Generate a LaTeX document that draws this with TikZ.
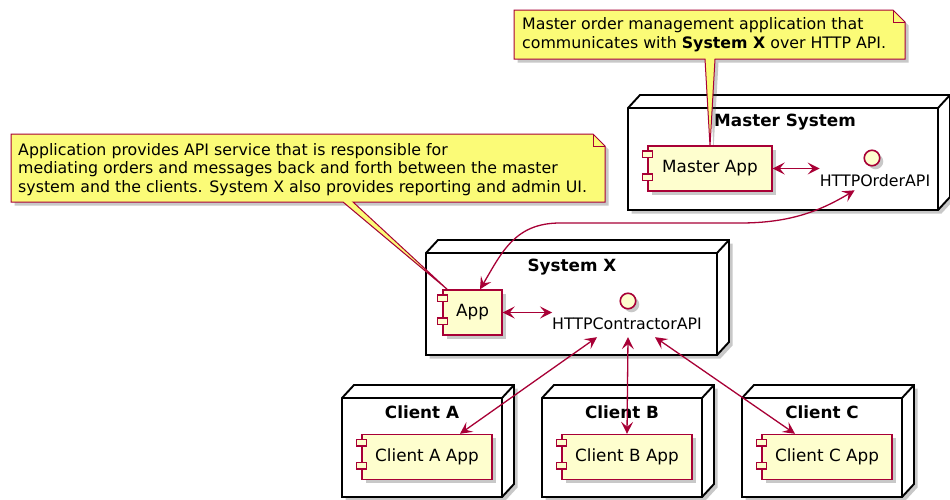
\documentclass[tikz,border=0pt]{standalone}
\usepackage{fontspec}
\setmainfont{DejaVu Sans}
\usetikzlibrary{arrows.meta,shadows,calc}
\definecolor{umlred}{HTML}{A80036}
\definecolor{notey}{HTML}{FBFB77}
\definecolor{compy}{HTML}{FEFECE}
\tikzset{
  shad/.style={drop shadow={shadow xshift=3.5pt,shadow yshift=-3.5pt,opacity=0.3,fill=black!70}},
  comp/.style={draw=umlred,fill=compy,line width=1.4pt,minimum height=45pt,inner sep=0pt,font=\fontsize{16.8}{20}\selectfont,shad},
  comptab/.style={draw=umlred,fill=compy,line width=1.2pt,minimum width=10pt,minimum height=6.5pt,inner sep=0pt},
  iface/.style={circle,draw=umlred,fill=compy,line width=1.6pt,minimum size=15.5pt,inner sep=0pt,shad},
  ilabel/.style={inner sep=0pt,font=\fontsize{15.8}{18}\selectfont},
  nlabel/.style={inner sep=0pt,font=\fontsize{16.8}{20}\selectfont\bfseries},
  notebox/.style={draw=umlred,fill=notey,line width=1pt,line join=miter,shad},
  notetext/.style={inner sep=0pt,align=left,font=\fontsize{15.8}{18.7}\selectfont},
  umltip/.tip={Stealth[length=12pt,width=12pt,inset=5pt]},
  conn/.style={draw=umlred,line width=1.3pt,{umltip}-{umltip}},
  dnodebox/.style={draw=black,fill=white,line width=1.9pt,line join=miter},
}
\newcommand\dnode[4]{%
  \path[dnodebox,shad] (#1,#2) -- (#1+12,#2-13) -- (#3+12,#2-13) -- (#3+12,#4-13) -- (#3,#4) -- (#1,#4) -- cycle;
  \draw[dnodebox,fill=none] (#1,#2) -- (#3,#2) -- (#3+12,#2-13) (#3,#2) -- (#3,#4);
}
\newcommand\umlcomp[5]{%
  \node[comp,minimum width=#4pt] (#1) at (#2,#3) {#5};
  \node[comptab] (#1t1) at ($(#1.north west)+(0,9)$) {};
  \node[comptab] (#1t2) at ($(#1.north west)+(0,32)$) {};
}
\begin{document}
\begin{tikzpicture}[x=1pt,y=-1pt]
\useasboundingbox (0,0) rectangle (950,499);
\fill[white] (0,0) rectangle (950,499);

% deployment nodes
\dnode{628}{108}{938}{210}
\node[nlabel] (msys) at (785,122) {Master System};
\dnode{426}{253}{717}{355}
\node[nlabel] (sysx) at (572,267) {System X};
\dnode{342}{398}{502}{497}
\node[nlabel] (cna) at (422,412) {Client A};
\dnode{542}{398}{702}{497}
\node[nlabel] (cnb) at (622,412) {Client B};
\dnode{742}{398}{902}{497}
\node[nlabel] (cnc) at (822,412) {Client C};

% anchor points of the components used by the notes
\coordinate (mapptop) at (710,146);
\coordinate (apptop) at (448,290);

% notes
\path[notebox] (514,10) -- (893,10) -- (905,22) -- (905,59) -- (715,59) -- (mapptop) -- (705,59) -- (514,59) -- cycle;
\draw[draw=umlred,line width=1pt] (893,10) -- (893,22) -- (905,22);
\node[notetext,anchor=west] (note1) at (522,35) {Master order management application that\\communicates with \textbf{System X} over HTTP API.};

\path[notebox] (11,134) -- (593,134) -- (605,146) -- (605,202) -- (353,202) -- (apptop) -- (343,202) -- (11,202) -- cycle;
\draw[draw=umlred,line width=1pt] (593,134) -- (593,146) -- (605,146);
\node[notetext,anchor=west] (note2) at (18,169.5) {Application provides API service that is responsible for\\mediating orders and messages back and forth between the master\\system and the clients. System X also provides reporting and admin UI.};

% components
\umlcomp{masterapp}{710}{168.5}{124}{Master App}
\umlcomp{app}{472.5}{312.5}{59}{App}
\umlcomp{clienta}{427}{457}{130}{Client A App}
\umlcomp{clientb}{627}{457}{130}{Client B App}
\umlcomp{clientc}{827}{457}{130}{Client C App}

% interfaces
\node[iface] (orderapi) at (872,158) {};
\node[ilabel] (orderlbl) at (875,181) {HTTPOrderAPI};
\node[iface] (contractapi) at (628,301) {};
\node[ilabel] (contractlbl) at (627,324) {HTTPContractorAPI};

% connectors
\draw[conn] (masterapp.east) -- (masterapp.east -| orderlbl.west);
\draw[conn] (app.east) -- (app.east -| contractlbl.west);
\draw[conn] ($(app.north)+(7.5,0)$) .. controls (502,252) and (515,223) .. (560,223) -- (740,223) .. controls (790,223) and (820,211) .. ($(orderlbl.south west)+(35,3)$);
\draw[conn] ($(contractlbl.south)+(-30,7)$) -- ($(clienta.north)+(33,0)$);
\draw[conn] ($(contractlbl.south)+(1,7)$) -- (clientb.north);
\draw[conn] ($(contractlbl.south)+(28,7)$) -- ($(clientc.north)+(-32,0)$);
\end{tikzpicture}
\end{document}
